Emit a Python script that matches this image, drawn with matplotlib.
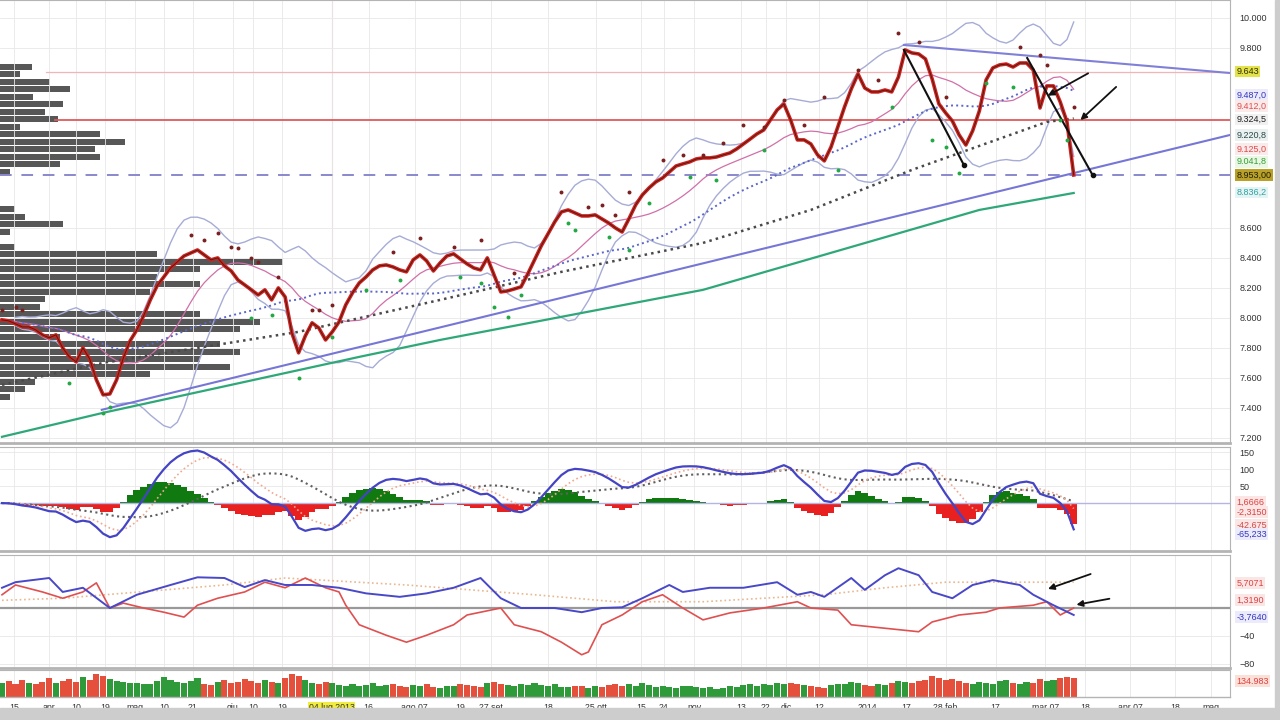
import matplotlib
matplotlib.use('Agg')
import matplotlib.pyplot as plt
from matplotlib.patches import Rectangle
from matplotlib.ticker import FuncFormatter
import numpy as np
import pandas as pd

plt.rcParams['font.family'] = ['Liberation Sans', 'DejaVu Sans']

# closes, one per bar (about 1.6 sessions)
close = [7987, 7980, 7960, 7940, 7940, 7920, 7887, 7867, 7887, 7800,
         7740, 7707, 7800, 7727, 7587, 7487, 7493, 7587, 7733, 7847,
         7920, 8013, 8120, 8213, 8273, 8333, 8373, 8413, 8433, 8453,
         8420, 8387, 8400, 8347, 8313, 8253, 8220, 8187, 8153, 8187,
         8120, 8200, 8140, 7900, 7767, 7880, 7967, 7933, 7853, 7907,
         7973, 8087, 8167, 8233, 8273, 8320, 8347, 8353, 8340, 8320,
         8307, 8387, 8420, 8380, 8313, 8367, 8413, 8427, 8393, 8360,
         8333, 8320, 8400, 8287, 8173, 8180, 8193, 8207, 8293, 8387,
         8480, 8560, 8640, 8707, 8720, 8700, 8680, 8680, 8687, 8660,
         8633, 8600, 8573, 8660, 8753, 8820, 8867, 8907, 8933, 8973,
         9013, 9027, 9040, 9060, 9067, 9067, 9073, 9087, 9100, 9127,
         9160, 9193, 9227, 9253, 9320, 9387, 9427, 9320, 9187, 9187,
         9160, 9087, 9047, 9140, 9273, 9407, 9527, 9627, 9533, 9507,
         9507, 9520, 9507, 9607, 9787, 9767, 9760, 9727, 9593, 9427,
         9367, 9313, 9220, 9153, 9247, 9380, 9587, 9667, 9687, 9693,
         9673, 9700, 9700, 9653, 9400, 9547, 9547, 9440, 9307, 8953]

volume = [95, 110, 88, 120, 100, 92, 105, 130, 98, 115,
          125, 108, 140, 118, 165, 150, 128, 112, 104, 96,
          100, 92, 88, 110, 140, 122, 105, 98, 115, 130,
          92, 86, 104, 118, 96, 108, 124, 112, 98, 120,
          102, 95, 130, 160, 150, 118, 100, 92, 105, 98,
          86, 80, 92, 78, 84, 96, 74, 82, 90, 76,
          70, 82, 76, 88, 72, 66, 80, 74, 90, 84,
          78, 70, 96, 104, 88, 82, 76, 92, 86, 98,
          84, 76, 90, 72, 68, 80, 74, 66, 78, 70,
          86, 92, 74, 88, 80, 96, 84, 72, 78, 70,
          66, 74, 80, 68, 62, 72, 58, 66, 76, 70,
          82, 88, 78, 92, 84, 96, 88, 100, 92, 84,
          76, 70, 64, 86, 94, 88, 102, 96, 84, 78,
          90, 82, 98, 110, 104, 96, 112, 120, 150, 135,
          118, 126, 110, 100, 92, 104, 96, 88, 112, 120,
          96, 90, 104, 98, 125, 110, 118, 130, 140, 135]

# high / low dots
hi_bars = [0, 2, 3, 28, 30, 32, 34, 35, 37, 38, 41, 46, 47, 49, 58, 62, 67, 71, 76, 83,
           87, 89, 91, 93, 98, 101, 104, 107, 110, 113, 116, 119, 122, 127, 130, 133, 136,
           140, 151, 154, 155, 159]
hi_vals = [8053, 8073, 8053, 8553, 8520, 8567, 8473, 8467, 8400, 8373, 8273, 8053, 8053,
           8087, 8440, 8533, 8473, 8520, 8300, 8840, 8740, 8753, 8687, 8840, 9053, 9087,
           9087, 9167, 9287, 9273, 9453, 9287, 9473, 9653, 9587, 9900, 9840, 9473, 9807,
           9753, 9687, 9407]
lo_bars = [10, 15, 16, 37, 40, 44, 49, 54, 59, 68, 71, 73, 75, 77, 84, 85, 90, 93, 96, 102,
           106, 113, 124, 132, 138, 140, 142, 146, 150, 157, 158]
lo_vals = [7567, 7367, 7407, 8000, 8020, 7600, 7873, 8187, 8253, 8273, 8233, 8073, 8007,
           8153, 8633, 8587, 8540, 8453, 8767, 8940, 8920, 9120, 8987, 9407, 9187, 9140,
           8967, 9567, 9540, 9320, 9187]

# long moving averages (need history before the chart start)
ma100_bars = [0, 15, 30, 44, 65, 83, 104, 120, 135, 155, 159]
ma100_vals = [7553, 7700, 7807, 7907, 8120, 8307, 8500, 8720, 8987, 9307, 9330]
ma200_bars = [0, 15, 53, 65, 104, 145, 159]
ma200_vals = [7207, 7367, 7740, 7853, 8187, 8720, 8833]

# volume at price profile
prof_price = [9675, 9625, 9575, 9525, 9475, 9425, 9375, 9325, 9275, 9225, 9175, 9125, 9075,
              9025, 8975, 8725, 8675, 8625, 8575, 8475, 8425, 8375, 8325, 8275, 8225, 8175,
              8125, 8075, 8025, 7975, 7925, 7875, 7825, 7775, 7725, 7675, 7625, 7575, 7525, 7475]
prof_vol = [32, 20, 50, 70, 33, 63, 45, 58, 20, 100, 125, 95, 100, 60, 10, 15, 25, 63, 10,
            15, 157, 283, 200, 157, 200, 150, 45, 40, 200, 260, 240, 60, 220, 240, 200, 230,
            150, 35, 25, 10]

# lower oscillator lines (sparse readings)
osc_blue_bars = [0, 2, 7, 9, 12, 16, 20, 25, 29, 33, 36, 39, 42, 46, 50, 54, 59, 63, 67, 71,
                 74, 77, 82, 86, 89, 92, 95, 99, 101, 105, 110, 115, 118, 120, 122, 126, 128,
                 131, 133, 136, 138, 141, 144, 147, 151, 153, 156, 159]
osc_blue = [29, 37, 43, 23, 29, 0, 19, 33, 44, 43, 30, 40, 33, 33, 29, 21, 16, 21, 29, 43,
            14, 0, 0, -6, 0, 1, 14, 33, 23, 29, 29, 37, 19, 23, 16, 43, 26, 47, 57, 47, 23,
            14, 33, 40, 33, 19, 4, -10]
osc_red_bars = [0, 2, 6, 9, 12, 14, 16, 18, 21, 24, 27, 29, 32, 36, 39, 42, 45, 48, 50, 51,
                53, 57, 60, 63, 67, 69, 74, 76, 80, 83, 86, 87, 89, 92, 95, 98, 101, 104, 108,
                113, 118, 120, 124, 126, 131, 136, 138, 142, 146, 148, 153, 155, 157, 159]
osc_red = [19, 33, 23, 14, 23, 36, 0, 7, 0, -6, -13, 4, 14, 23, 37, 29, 43, 29, 23, 4, -24,
           -39, -49, -39, -24, -10, 0, -24, -34, -49, -67, -63, -24, -10, 9, 19, 0, -17, -7,
           0, 9, 0, -3, -24, -29, -34, -20, -10, -6, 0, 4, 9, -10, 0]
osc_avg_bars = [0, 9, 33, 42, 60, 79, 91, 104, 113, 122, 131, 140, 152, 159]
osc_avg = [11, 14, 33, 43, 33, 19, 9, 9, 14, 19, 29, 37, 37, 37]

tick_bars = [1.8, 7, 11, 15.3, 19.7, 24, 28.3, 34.2, 37.2, 41.6, 48.9, 54.4, 61.2, 68, 72.6,
             81, 88.1, 94.8, 98.2, 102.7, 109.6, 113.3, 116.3, 121.2, 128.4, 134.1, 140,
             147.4, 154.8, 160.7, 167.4, 174.1, 179.3]
tick_labels = ['15', 'apr', '10', '19', 'mag', '10', '21', 'giu', '10', '19', '04 lug 2013',
               '16', 'ago 07', '19', '27 set', '18', '25 ott', '15', '24', 'nov', '13', '22',
               'dic', '12', '2014', '17', '28 feb', '17', 'mar 07', '18', 'apr 07', '18', 'mag']

main_tags = [(9643, '9.643', '#e4e24a', '#303000'),
             (9487, '9.487,0', '#ecebfb', '#3535c0'),
             (9412, '9.412,0', '#fbeaea', '#e05050'),
             (9324, '9.324,5', '#f0f0f0', '#202020'),
             (9220, '9.220,8', '#eaf0f0', '#2a4848'),
             (9125, '9.125,0', '#fbeaea', '#e04848'),
             (9041, '9.041,8', '#eaf7e4', '#35a035'),
             (8953, '8.953,00', '#b9a028', '#202000'),
             (8836, '8.836,2', '#e4f4f4', '#30a0a0')]
macd_tags = [(3, '1,6666', '#fbe6e6', '#e04040'),
             (-26, '-2,3150', '#fbe6e6', '#e04040'),
             (-65, '-42,675', '#fbe6e6', '#d04848'),
             (-91, '-65,233', '#ebebfb', '#3535c0')]
osc_tags = [(36, '5,7071', '#fbe6e6', '#e04040'),
            (11, '1,3190', '#fbe6e6', '#e04040'),
            (-13, '-3,7640', '#ebebfb', '#3535c0')]

s = pd.Series(close, dtype=float)
x = np.arange(len(close))
mid = s.rolling(12, min_periods=3).mean()
sd = s.rolling(12, min_periods=3).std()
ma50 = s.rolling(30, min_periods=1).mean()
macd = s.ewm(span=8, adjust=False).mean() - s.ewm(span=16, adjust=False).mean()
sig = macd.ewm(span=6, adjust=False).mean()
slow = macd.rolling(20, min_periods=1).mean()
hist = macd - sig

fig = plt.figure(figsize=(12.8, 7.2), dpi=100)
ax = fig.add_axes([0, 0.385, 0.961, 0.615])
ax2 = fig.add_axes([0, 0.2347, 0.961, 0.1445], sharex=ax)
ax3 = fig.add_axes([0, 0.0722, 0.961, 0.157], sharex=ax)
ax4 = fig.add_axes([0, 0.032, 0.961, 0.0375], sharex=ax)
xmax = 182.2

for a in (ax, ax2, ax3, ax4):
    a.set_xlim(-0.3, xmax)
    a.grid(True, color='#e8e8e8', lw=0.6)
    a.set_axisbelow(True)
    a.yaxis.tick_right()
    a.tick_params(length=0, labelsize=6.5, labelcolor='#333333', pad=7)
    for sp in a.spines.values():
        sp.set_color('#b4b4b4')
    a.spines['left'].set_visible(False)
    a.spines['bottom'].set_linewidth(2)
    a.axvline(48.9, color='#f3c6c6', lw=0.8, zorder=0)

# price panel
ax.set_ylim(7167, 10120)
ax.set_yticks([7200, 7400, 7600, 7800, 8000, 8200, 8400, 8600, 9800, 10000])
ax.yaxis.set_major_formatter(FuncFormatter(lambda v, p: f'{v:,.0f}'.replace(',', '.')))
ax.tick_params(labelbottom=False)

axp = ax.twiny()
axp.set_xlim(0, 1230)
axp.barh(prof_price, prof_vol, height=40, color='#575757', lw=0)
axp.axis('off')
axp.set_zorder(1)
ax.set_zorder(2)
ax.patch.set_visible(False)

ax.axhline(9320, xmin=0.045, color='#e05a5a', lw=1.3)
ax.axhline(9643, xmin=0.037, color='#f2b4b4', lw=0.9)
ax.axhline(8953, color='#8888cc', lw=1.4, dashes=(6, 5))
ax.plot(x, mid + 2 * sd, color='#a6acd6', lw=1)
ax.plot(x, mid - 2 * sd, color='#a6acd6', lw=1)
ax.plot(x, mid, color='#d070a8', lw=0.9)
ax.plot(x, ma50, color='#5a66c8', lw=1.4, ls=':')
ax.plot(ma100_bars, ma100_vals, color='#4a4a4a', lw=1.8, ls=':')
ax.plot(ma200_bars, ma200_vals, color='#2ea878', lw=1.6)
ax.plot([14.8, xmax], [7387, 9220], color='#7676d6', lw=1.5)
ax.plot([133.8, xmax], [9820, 9633], color='#8080d8', lw=1.5)
ax.plot(x, close, color='#d42020', lw=2.6, solid_joinstyle='round')
ax.plot(x, close, color='#4a2010', lw=0.7)
ax.scatter(hi_bars, hi_vals, s=8, color='#7a2020', zorder=5, lw=0)
ax.scatter(lo_bars, lo_vals, s=8, color='#22a844', zorder=5, lw=0)

# hand drawn lines and arrows
ax.plot([133.8, 142.7], [9787, 9020], color='#111111', lw=1.5)
ax.plot([142.7], [9020], 'o', color='#111111', ms=3)
ax.plot([152.1, 161.8], [9733, 8953], color='#111111', lw=1.5)
ax.plot([161.8], [8953], 'o', color='#111111', ms=3)
arr = dict(arrowstyle='-|>', color='#111111', lw=1.3, mutation_scale=9)
ax.annotate('', xy=(154.8, 9473), xytext=(161.5, 9640), arrowprops=arr)
ax.annotate('', xy=(159.7, 9307), xytext=(165.6, 9553), arrowprops=arr)

# MACD panel
ax2.set_ylim(-141, 165)
ax2.set_yticks([50, 100, 150])
ax2.tick_params(labelbottom=False)
ax2.axhline(0, color='#b4b4e6', lw=1)
ax2.bar(x, hist.where(hist > 0, 0), width=1, color='#107a10', lw=0)
ax2.bar(x, hist.where(hist < 0, 0), width=1, color='#e82020', lw=0)
ax2.plot(x, slow, color='#606060', lw=1.5, ls=':')
ax2.plot(x, sig, color='#f0a890', lw=1.2, ls=':')
ax2.plot(x, macd, color='#4444c4', lw=1.6)

# oscillator panel
ax3.set_ylim(-86, 76)
ax3.set_yticks([-80, -40])
ax3.tick_params(labelbottom=False)
ax3.axhline(0, color='#999999', lw=1.6)
ax3.plot(osc_avg_bars, osc_avg, color='#e8b890', lw=1.2, ls=':')
ax3.plot(osc_red_bars, osc_red, color='#e05050', lw=1.2)
ax3.plot(osc_blue_bars, osc_blue, color='#4848c8', lw=1.4)
ax3.annotate('', xy=(154.8, 26), xytext=(161.9, 50), arrowprops=arr)
ax3.annotate('', xy=(159.0, 4), xytext=(164.7, 14), arrowprops=arr)

# volume panel
ups = np.r_[True, np.diff(close) >= 0]
ax4.bar(x, volume, width=0.9, color=np.where(ups, '#2f9a3a', '#e4503c'), lw=0)
ax4.set_ylim(0, 190)
ax4.set_yticks([])
ax4.spines['bottom'].set_linewidth(1)
ax4.set_xticks(tick_bars)
ax4.set_xticklabels(tick_labels)
ax4.tick_params(axis='x', length=0, pad=4, labelsize=6.3)
for lab in ax4.get_xticklabels():
    if lab.get_text() == '04 lug 2013':
        lab.set_bbox(dict(boxstyle='square,pad=0.1', fc='#f0ec40', ec='none'))

def tag(a, y, text, fc, tc):
    a.text(1.005, y, text, transform=a.get_yaxis_transform(), fontsize=6.5, color=tc,
           va='center', ha='left', clip_on=False,
           bbox=dict(boxstyle='square,pad=0.15', fc=fc, ec='none'))

for y, t, fc, tc in main_tags:
    tag(ax, y, t, fc, tc)
for y, t, fc, tc in macd_tags:
    tag(ax2, y, t, fc, tc)
for y, t, fc, tc in osc_tags:
    tag(ax3, y, t, fc, tc)
tag(ax4, 110, '134.983', '#fbe0d8', '#e04040')

fig.patches.append(Rectangle((0, 0), 1, 0.016, transform=fig.transFigure, color='#cdcdcd'))
fig.patches.append(Rectangle((0.996, 0), 0.004, 1, transform=fig.transFigure, color='#cdcdcd'))

fig.savefig('out.png', dpi=100)
